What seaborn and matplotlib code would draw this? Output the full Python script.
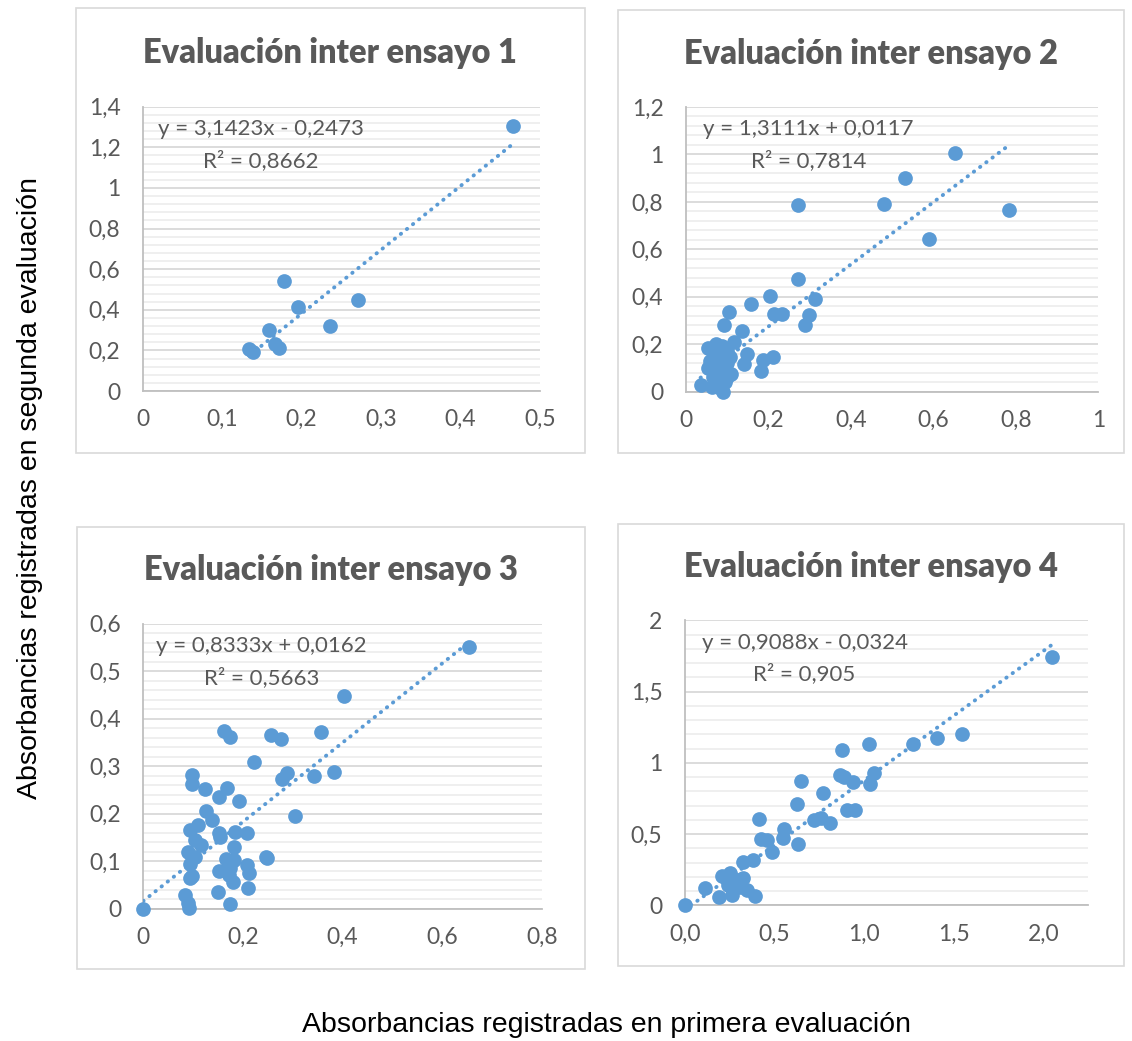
import numpy as np
import pandas as pd
import matplotlib
matplotlib.use("Agg")
import matplotlib.pyplot as plt
from matplotlib.ticker import MultipleLocator, FixedLocator, FixedFormatter
from matplotlib.patches import Rectangle
import seaborn as sns

# ---------------- data ----------------
titles = ["Evaluación inter ensayo 1", "Evaluación inter ensayo 2",
          "Evaluación inter ensayo 3", "Evaluación inter ensayo 4"]

e1_x = [0.4656, 0.178, 0.195, 0.271, 0.236, 0.159, 0.166, 0.172, 0.134, 0.139]
e1_y = [1.303, 0.543, 0.415, 0.446, 0.318, 0.302, 0.230, 0.210, 0.205, 0.194]

e2_x = [0.653, 0.532, 0.271, 0.480, 0.784, 0.590, 0.271, 0.313, 0.204, 0.159,
        0.106, 0.215, 0.233, 0.300, 0.289, 0.094, 0.136, 0.118, 0.148, 0.142,
        0.212, 0.188, 0.183, 0.036, 0.055, 0.073, 0.087, 0.107, 0.055, 0.067,
        0.079, 0.090, 0.095, 0.109, 0.083, 0.071, 0.063, 0.099, 0.075, 0.091,
        0.065, 0.080, 0.100, 0.060, 0.085, 0.070, 0.100, 0.080]
e2_y = [1.005, 0.899, 0.787, 0.790, 0.764, 0.642, 0.475, 0.392, 0.405, 0.368,
        0.334, 0.327, 0.327, 0.323, 0.281, 0.281, 0.257, 0.211, 0.160, 0.117,
        0.148, 0.133, 0.086, 0.030, 0.186, 0.199, 0.192, 0.148, 0.101, 0.063,
        0.021, 0.000, 0.042, 0.074, 0.133, 0.148, 0.021, 0.119, 0.091, 0.091,
        0.170, 0.165, 0.170, 0.130, 0.110, 0.045, 0.060, 0.060]

e3_x = [0.654, 0.404, 0.356, 0.163, 0.175, 0.256, 0.276, 0.223, 0.288, 0.278,
        0.343, 0.383, 0.097, 0.097, 0.123, 0.169, 0.152, 0.193, 0.125, 0.137,
        0.305, 0.109, 0.094, 0.152, 0.155, 0.185, 0.208, 0.104, 0.116, 0.183,
        0.090, 0.104, 0.094, 0.167, 0.183, 0.246, 0.248, 0.209, 0.213, 0.152,
        0.174, 0.173, 0.181, 0.097, 0.094, 0.149, 0.211, 0.084, 0.090, 0.092,
        0.175, 0.000]
e3_y = [0.552, 0.447, 0.372, 0.375, 0.362, 0.365, 0.358, 0.309, 0.285, 0.274,
        0.279, 0.288, 0.281, 0.262, 0.251, 0.255, 0.235, 0.227, 0.206, 0.186,
        0.196, 0.176, 0.165, 0.159, 0.152, 0.161, 0.159, 0.145, 0.135, 0.130,
        0.120, 0.109, 0.095, 0.105, 0.102, 0.109, 0.106, 0.093, 0.076, 0.079,
        0.085, 0.072, 0.057, 0.069, 0.064, 0.035, 0.043, 0.029, 0.011, 0.001,
        0.009, 0.000]

e4_x = [0.000, 0.113, 0.193, 0.206, 0.253, 0.262, 0.243, 0.290, 0.327, 0.309,
        0.346, 0.392, 0.327, 0.379, 0.424, 0.457, 0.485, 0.414, 0.550, 0.556,
        0.630, 0.625, 0.649, 0.721, 0.758, 0.812, 0.771, 0.907, 0.950, 0.866,
        0.890, 0.937, 0.875, 1.030, 1.035, 1.056, 1.271, 1.405, 1.545, 2.046]
e4_y = [0.000, 0.124, 0.056, 0.206, 0.225, 0.073, 0.143, 0.178, 0.189, 0.131,
        0.108, 0.065, 0.306, 0.318, 0.463, 0.458, 0.377, 0.606, 0.470, 0.533,
        0.430, 0.709, 0.870, 0.601, 0.611, 0.575, 0.791, 0.669, 0.669, 0.912,
        0.903, 0.868, 1.092, 1.132, 0.854, 0.926, 1.132, 1.172, 1.205, 1.745]

slopes = [3.1423, 1.3111, 0.8333, 0.9088]
intercepts = [-0.2473, 0.0117, 0.0162, -0.0324]
eq_texts = ["y = 3,1423x - 0,2473", "y = 1,3111x + 0,0117",
            "y = 0,8333x + 0,0162", "y = 0,9088x - 0,0324"]
r2_texts = ["R² = 0,8662", "R² = 0,7814", "R² = 0,5663", "R² = 0,905"]

xticks = [[0, 0.1, 0.2, 0.3, 0.4, 0.5], [0, 0.2, 0.4, 0.6, 0.8, 1.0],
          [0, 0.2, 0.4, 0.6, 0.8], [0, 0.5, 1.0, 1.5, 2.0]]
xlabels = [["0", "0,1", "0,2", "0,3", "0,4", "0,5"],
           ["0", "0,2", "0,4", "0,6", "0,8", "1"],
           ["0", "0,2", "0,4", "0,6", "0,8"],
           ["0,0", "0,5", "1,0", "1,5", "2,0"]]
yticks = [[0, 0.2, 0.4, 0.6, 0.8, 1.0, 1.2, 1.4],
          [0, 0.2, 0.4, 0.6, 0.8, 1.0, 1.2],
          [0, 0.1, 0.2, 0.3, 0.4, 0.5, 0.6],
          [0, 0.5, 1.0, 1.5, 2.0]]
ylabels = [["0", "0,2", "0,4", "0,6", "0,8", "1", "1,2", "1,4"],
           ["0", "0,2", "0,4", "0,6", "0,8", "1", "1,2"],
           ["0", "0,1", "0,2", "0,3", "0,4", "0,5", "0,6"],
           ["0", "0,5", "1", "1,5", "2"]]
xmax = [0.5, 1.0, 0.8, 2.25]

ylabel_text = "Absorbancias registradas en segunda evaluación"
xlabel_text = "Absorbancias registradas en primera evaluación"

# ---------------- style ----------------
sns.set_style("white")
plt.rcParams["font.family"] = ["Lato", "DejaVu Sans"]

W, H = 1132, 1041
fig = plt.figure(figsize=(W / 100, H / 100), dpi=100)

def fx(px):
    return px / W

def fy(py):
    return 1 - py / H

# panel boxes (left, top, right, bottom) in px
boxes = [(75.5, 8, 584.5, 452.5), (617.5, 10, 1124, 452.5),
         (76.5, 527, 585, 969), (617.5, 524, 1124, 966)]
# axes (left, top, right, bottom) in px
axes_px = [(142.7, 106.7, 540.0, 391.0), (685.7, 107.0, 1098.3, 391.7),
           (143.3, 623.7, 541.7, 908.7), (684.7, 620.3, 1088.3, 905.3)]
title_y = [53, 54, 570, 567]

blue = "#5B9BD5"
grey_txt = "#595959"

datasets = [(e1_x, e1_y), (e2_x, e2_y), (e3_x, e3_y), (e4_x, e4_y)]

for i in range(4):
    bl, bt, br, bb = boxes[i]
    fig.patches.append(Rectangle((fx(bl), fy(bb)), fx(br - bl), (bb - bt) / H,
                                 transform=fig.transFigure, fill=False,
                                 edgecolor="#D9D9D9", linewidth=1.2, zorder=0))
    fig.text(fx((bl + br) / 2), fy(title_y[i]), titles[i], ha="center", va="center",
             fontsize=23.5, fontweight="heavy", color=grey_txt)

    al, at, ar, ab = axes_px[i]
    ax = fig.add_axes([fx(al), fy(ab), fx(ar - al), (ab - at) / H])
    xs, ys = datasets[i]
    df = pd.DataFrame({"x": xs, "y": ys})
    sns.scatterplot(data=df, x="x", y="y", ax=ax, color=blue, s=112,
                    linewidth=0, zorder=3, clip_on=False)
    # trend line over the data range
    xr = np.array([min(xs), max(xs)])
    tl = pd.DataFrame({"x": xr, "y": slopes[i] * xr + intercepts[i]})
    sns.lineplot(data=tl, x="x", y="y", ax=ax, color=blue, linewidth=2.8,
                 linestyle=(0, (0.1, 1.9)), dash_capstyle="round", zorder=4)

    ax.set_xlim(0, xmax[i])
    ax.set_ylim(0, yticks[i][-1])
    ax.xaxis.set_major_locator(FixedLocator(xticks[i]))
    ax.xaxis.set_major_formatter(FixedFormatter(xlabels[i]))
    ax.yaxis.set_major_locator(FixedLocator(yticks[i]))
    ax.yaxis.set_major_formatter(FixedFormatter(ylabels[i]))
    step = yticks[i][1] - yticks[i][0]
    ax.yaxis.set_minor_locator(MultipleLocator(step / 5))
    ax.grid(which="major", axis="y", color="#D9D9D9", linewidth=1.3, zorder=0)
    ax.grid(which="minor", axis="y", color="#EEEEEE", linewidth=1.3, zorder=0)
    ax.grid(which="major", axis="x", visible=False)
    ax.set_axisbelow(True)
    for s in ["top", "right"]:
        ax.spines[s].set_visible(False)
    for s in ["left", "bottom"]:
        ax.spines[s].set_color("#BFBFBF")
        ax.spines[s].set_linewidth(1.3)
    ax.tick_params(which="major", direction="out", length=5.5, width=1.3,
                   color="#BFBFBF", labelcolor=grey_txt, labelsize=16.5)
    ax.tick_params(axis="y", which="major", pad=10.5)
    ax.tick_params(axis="x", which="major", pad=7.5)
    ax.tick_params(axis="both", which="minor", length=0)
    ax.set_xlabel("")
    ax.set_ylabel("")
    ax.text(0.297, 0.922, eq_texts[i], transform=ax.transAxes, ha="center",
            va="center", fontsize=16, color=grey_txt)
    ax.text(0.297, 0.812, r2_texts[i], transform=ax.transAxes, ha="center",
            va="center", fontsize=16, color=grey_txt)

fig.text(fx(30), fy(488), ylabel_text, rotation=90, ha="center", va="center",
         fontsize=20.5, family=["Liberation Sans", "DejaVu Sans"], color="black")
fig.text(fx(606), fy(1025), xlabel_text, ha="center", va="center",
         fontsize=20.5, family=["Liberation Sans", "DejaVu Sans"], color="black")

fig.savefig("out.png", dpi=100, facecolor="white")
